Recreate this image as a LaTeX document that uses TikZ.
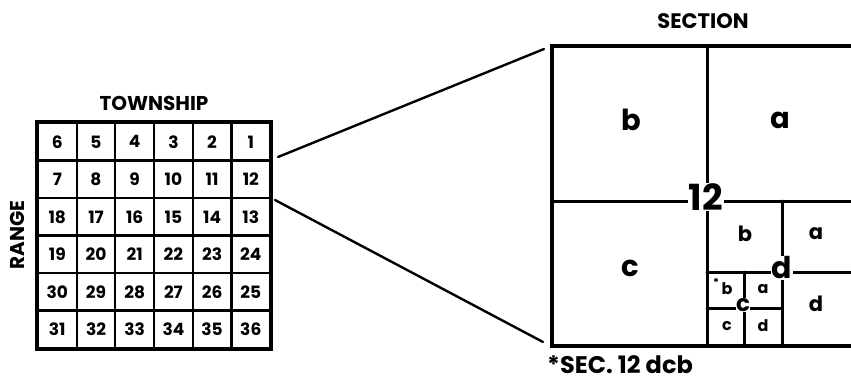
\documentclass[tikz,border=0pt]{standalone}
\usepackage{fontspec}
\setmainfont{Poppins}
\begin{document}
\begin{tikzpicture}[x=1pt,y=-1pt,line cap=round,font=\bfseries,
	cell/.style={draw,line width=2.2pt,minimum width=38.7pt,minimum height=37.5pt,inner sep=0pt,font=\bfseries\fontsize{17}{17}\selectfont},
	part/.style={line width=3pt},
	tag/.style={fill=white,inner sep=1pt}]
	\useasboundingbox (0,0) rectangle (851,384);
	\clip (0,0) rectangle (851,384);
	% township grid
	\foreach \r in {0,...,5}
		\foreach \c in {0,...,5} {
			\pgfmathtruncatemacro{\n}{mod(\r,2)==0 ? 6*\r+6-\c : 6*\r+1+\c}
			\node (T\r\c) at (57.3+38.7*\c, 141.8+37.5*\r) [cell] {\n};
		}
	\draw[line width=3.6pt] (T00.north west) rectangle (T55.south east);
	\node (township) at (154,103) [font=\bfseries\fontsize{20}{20}\selectfont] {TOWNSHIP};
	\node (range) at (17,235) [rotate=90,font=\bfseries\fontsize{20}{20}\selectfont] {RANGE};
	% section 12
	\coordinate (NW) at (552,46);
	\coordinate (SW) at (552,346);
	\draw[line width=3.6pt] (862,46) -- (NW) -- (SW) -- (862,346);
	\draw[part] (707,46) -- (707,346);
	\draw[part] (552,201) -- (862,201);
	\draw[part] (782,201) -- (782,346);
	\draw[part] (707,272) -- (862,272);
	\draw[part] (744,272) -- (744,346);
	\draw[part] (707,308) -- (782,308);
	\node (S12) at (706,197) [tag,font=\bfseries\fontsize{36}{36}\selectfont] {12};
	\node (Sd) at (782,268) [tag,font=\bfseries\fontsize{30}{30}\selectfont] {d};
	\node (Sdc) at (743,305) [tag,inner sep=0.5pt,font=\bfseries\fontsize{23}{23}\selectfont] {c};
	\begin{scope}[font=\bfseries\fontsize{29}{29}\selectfont]
		\node (Sb) at (631,120) {b};
		\node (Sa) at (780,120) {a};
		\node (Sc) at (630,268) {c};
	\end{scope}
	\begin{scope}[font=\bfseries\fontsize{21}{21}\selectfont]
		\node (Sdb) at (745,234) {b};
		\node (Sda) at (816,234) {a};
		\node (Sdd) at (816,304) {d};
	\end{scope}
	\begin{scope}[font=\bfseries\fontsize{16}{16}\selectfont]
		\node (Sdcb) at (727,289) {b};
		\node (Sdca) at (763,289) {a};
		\node (Sdcc) at (727,326) {c};
		\node (Sdcd) at (763,326) {d};
	\end{scope}
	\node (star) at (716,282) [font=\bfseries\fontsize{11}{11}\selectfont,inner sep=0pt] {*};
	\node (note) at (547,365) [anchor=west,inner sep=0pt,font=\bfseries\fontsize{24}{24}\selectfont] {*SEC. 12 dcb};
	\node (section) at (703,21) [font=\bfseries\fontsize{21}{21}\selectfont] {SECTION};
	% zoom lines
	\coordinate (from1) at (278,157);
	\coordinate (from2) at (275,200);
	\draw[line width=2.4pt] (from1) -- (544,49);
	\draw[line width=2.4pt] (from2) -- (543,342);
\end{tikzpicture}
\end{document}
